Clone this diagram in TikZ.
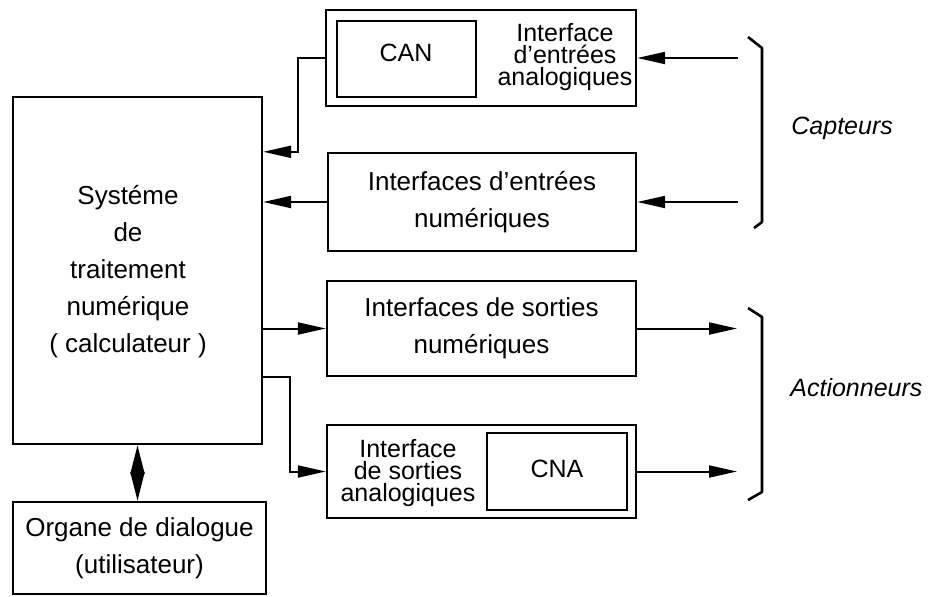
\documentclass[tikz,border=0pt]{standalone}
\usepackage{fontspec}
\setmainfont{Liberation Sans}
\usetikzlibrary{arrows.meta,calc}

\begin{document}
\begin{tikzpicture}[x=0.5pt,y=-0.5pt,
    bloc/.style={draw, line width=1.2pt, inner sep=0pt, align=center,
        font=\fontsize{13}{18.5}\selectfont},
    serre/.style={align=center, inner sep=0pt, font=\fontsize{12.5}{11}\selectfont},
    fleche/.style={line width=1pt, -{Triangle[length=14pt,width=6pt]}},
    accol/.style={line width=1.3pt, line join=round}]
    \useasboundingbox (0,0) rectangle (928,596);

    % calculateur et organe de dialogue
    \node (sys) at (137.5,270.5) [bloc, minimum width=124.5pt, minimum height=173.5pt] {};
    \node (systxt) at (128,272) [bloc, draw=none]
        {Systéme\\de\\traitement\\numérique\\( calculateur )};
    \node (dlg) at (139.5,548) [bloc, minimum width=126.5pt, minimum height=46pt]
        {Organe de dialogue\\(utilisateur)};

    % interfaces d'entrees
    \node (ain) at (481,58) [bloc, minimum width=155pt, minimum height=48pt] {};
    \node (can) at (406.5,59) [bloc, minimum width=69.5pt, minimum height=38pt] {};
    \node (cantxt) at (406,53) [serre] {CAN};
    \node (aintxt) at (565,57) [serre] {Interface\\d'entrées\\analogiques};
    \node (din) at (482,202) [bloc, minimum width=154pt, minimum height=49pt]
        {Interfaces d'entrées\\numériques};

    % interfaces de sorties
    \node (dout) at (481.5,328.5) [bloc, minimum width=154.5pt, minimum height=47.5pt]
        {Interfaces de sorties\\numériques};
    \node (aout) at (481.5,471.5) [bloc, minimum width=154.5pt, minimum height=46.5pt] {};
    \node (cna) at (557,471.5) [bloc, minimum width=70pt, minimum height=38.5pt] {};
    \node (cnatxt) at (557,469) [serre] {CNA};
    \node (aouttxt) at (408,473) [serre] {Interface\\de sorties\\analogiques};

    % capteurs / actionneurs
    \coordinate (c1) at (738,58);
    \coordinate (c2) at (738,202);
    \coordinate (a1) at (737,328.5);
    \coordinate (a2) at (737,471.5);
    \node (capt) at (791,128) [anchor=west, inner sep=0pt, font=\fontsize{12.5}{15}\itshape] {Capteurs};
    \node (act) at (790,388) [anchor=west, inner sep=0pt, font=\fontsize{12.5}{15}\itshape] {Actionneurs};

    \draw[fleche] (c1) -- (ain.east);
    \draw[fleche] (c2) -- (din.east);
    \draw[fleche] (ain.west) -- ++(-27,0) |- (sys.east |- din.north);
    \draw[fleche] (din.west) -- (din.west -| sys.east);
    \draw[fleche] (sys.east |- dout.west) -- (dout.west);
    \draw[fleche] (sys.east |- dout.south) -- ++(27,0) |- (aout.west);
    \draw[fleche] (dout.east) -- (a1);
    \draw[fleche] (aout.east) -- (a2);
    \draw[line width=1pt, {Triangle[length=14.5pt,width=7pt]}-{Triangle[length=14.5pt,width=7pt]}]
        (sys.south) -- (sys.south |- dlg.north);

    % accolades
    \draw[accol] (748,37) -- (762,48) -- (762,222) -- (754,228);
    \draw[accol] (748,308) -- (762,317) -- (762,492) -- (748,500);
\end{tikzpicture}
\end{document}
